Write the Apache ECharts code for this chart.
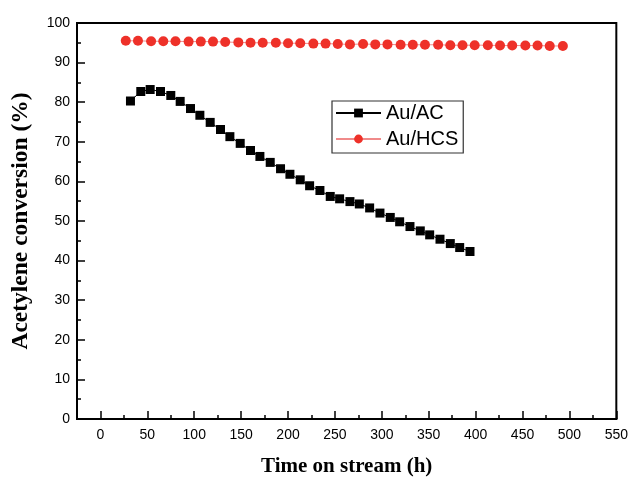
<!DOCTYPE html>
<html>
<head>
<meta charset="utf-8">
<script src="https://cdn.jsdelivr.net/npm/echarts@6/dist/echarts.min.js"></script>
<style>html,body{margin:0;padding:0;background:#fff}#c{width:631px;height:482px}</style>
</head>
<body>
<div id="c"></div>
<script>
// Au/AC: time on stream (h) and acetylene conversion (%)
var acTime = [32,43,53,64,75,85,96,106,117,128,138,149,160,170,181,192,202,213,223,234,245,255,266,276,287,298,309,319,330,341,351,362,373,383,394];
var acConv = [80.3,82.7,83.2,82.7,81.7,80.2,78.4,76.7,74.9,73.1,71.3,69.6,67.8,66.3,64.8,63.2,61.8,60.4,58.9,57.7,56.2,55.6,54.9,54.3,53.3,52.0,50.9,49.8,48.6,47.5,46.5,45.4,44.3,43.3,42.3];
// Au/HCS
var hcsTime = [27,40,54,67,80,94,107,120,133,147,160,173,187,200,213,227,240,253,266,280,293,306,320,333,346,360,373,386,399,413,426,439,453,466,479,493];
var hcsConv = [95.5,95.5,95.4,95.4,95.4,95.3,95.3,95.3,95.2,95.1,95.0,95.0,95.0,94.9,94.9,94.8,94.8,94.7,94.6,94.7,94.6,94.6,94.5,94.5,94.5,94.5,94.4,94.4,94.4,94.4,94.3,94.3,94.3,94.3,94.2,94.2];
var xMajorTicks = [0,50,100,150,200,250,300,350,400,450,500,550];
var xMinorTicks = [25,75,125,175,225,275,325,375,425,475,525];
var seriesNames = ['Au/AC','Au/HCS'];

function pairs(xs, ys){ return xs.map(function(x,i){ return [x, ys[i]]; }); }

var chart = echarts.init(document.getElementById('c'), null, {renderer:'canvas'});
var axisLineStyle = {show:true,onZero:false,lineStyle:{color:'#000',width:2}};
chart.setOption({
  animation:false,
  backgroundColor:'#fff',
  grid:{left:77,right:12,top:23,bottom:59,show:true,borderColor:'#000',borderWidth:2,backgroundColor:'transparent'},
  legend:{
    data:seriesNames,
    orient:'vertical',
    left:332, top:101,
    padding:[2,5,4,3],
    borderColor:'#333', borderWidth:1.2,
    itemWidth:45, itemHeight:11, itemGap:6,
    textStyle:{fontSize:20,fontFamily:'Liberation Sans, Arial',color:'#000',lineHeight:20}
  },
  xAxis:[{
    type:'value', min:-25, max:550,
    name:'Time on stream (h)', nameLocation:'middle', nameGap:37,
    nameTextStyle:{fontSize:21,fontWeight:'bold',fontFamily:'Liberation Serif, Times New Roman',color:'#000'},
    axisLine:axisLineStyle, splitLine:{show:false},
    axisTick:{show:true,inside:true,length:8,customValues:xMajorTicks,lineStyle:{color:'#000',width:1.5}},
    axisLabel:{show:true,customValues:xMajorTicks,margin:9,fontSize:14,fontFamily:'Liberation Sans, Arial',color:'#000'}
  },{
    type:'value', min:-25, max:550, position:'bottom', offset:0,
    axisLine:{show:false}, splitLine:{show:false},
    axisTick:{show:true,inside:true,length:4,customValues:xMinorTicks,lineStyle:{color:'#000',width:1.5}},
    axisLabel:{show:false}
  }],
  yAxis:{
    type:'value', min:0, max:100, interval:10,
    name:'Acetylene conversion (%)', nameLocation:'middle', nameGap:44,
    nameTextStyle:{fontSize:23.5,fontWeight:'bold',fontFamily:'Liberation Serif, Times New Roman',color:'#000'},
    axisLine:axisLineStyle, splitLine:{show:false},
    axisTick:{show:true,inside:true,length:8,lineStyle:{color:'#000',width:1.5}},
    minorTick:{show:true,splitNumber:2,length:4,lineStyle:{color:'#000',width:1.5}},
    axisLabel:{margin:7,fontSize:14,fontFamily:'Liberation Sans, Arial',color:'#000'}
  },
  series:[{
    name:seriesNames[0], type:'line', xAxisIndex:0,
    data:pairs(acTime, acConv),
    symbol:'rect', symbolSize:9,
    itemStyle:{color:'#000'},
    lineStyle:{color:'#000',width:1}
  },{
    name:seriesNames[1], type:'line', xAxisIndex:0,
    data:pairs(hcsTime, hcsConv),
    symbol:'circle', symbolSize:10,
    itemStyle:{color:'#ee3129'},
    lineStyle:{color:'#f08a8a',width:1}
  }]
});
</script>
</body>
</html>
